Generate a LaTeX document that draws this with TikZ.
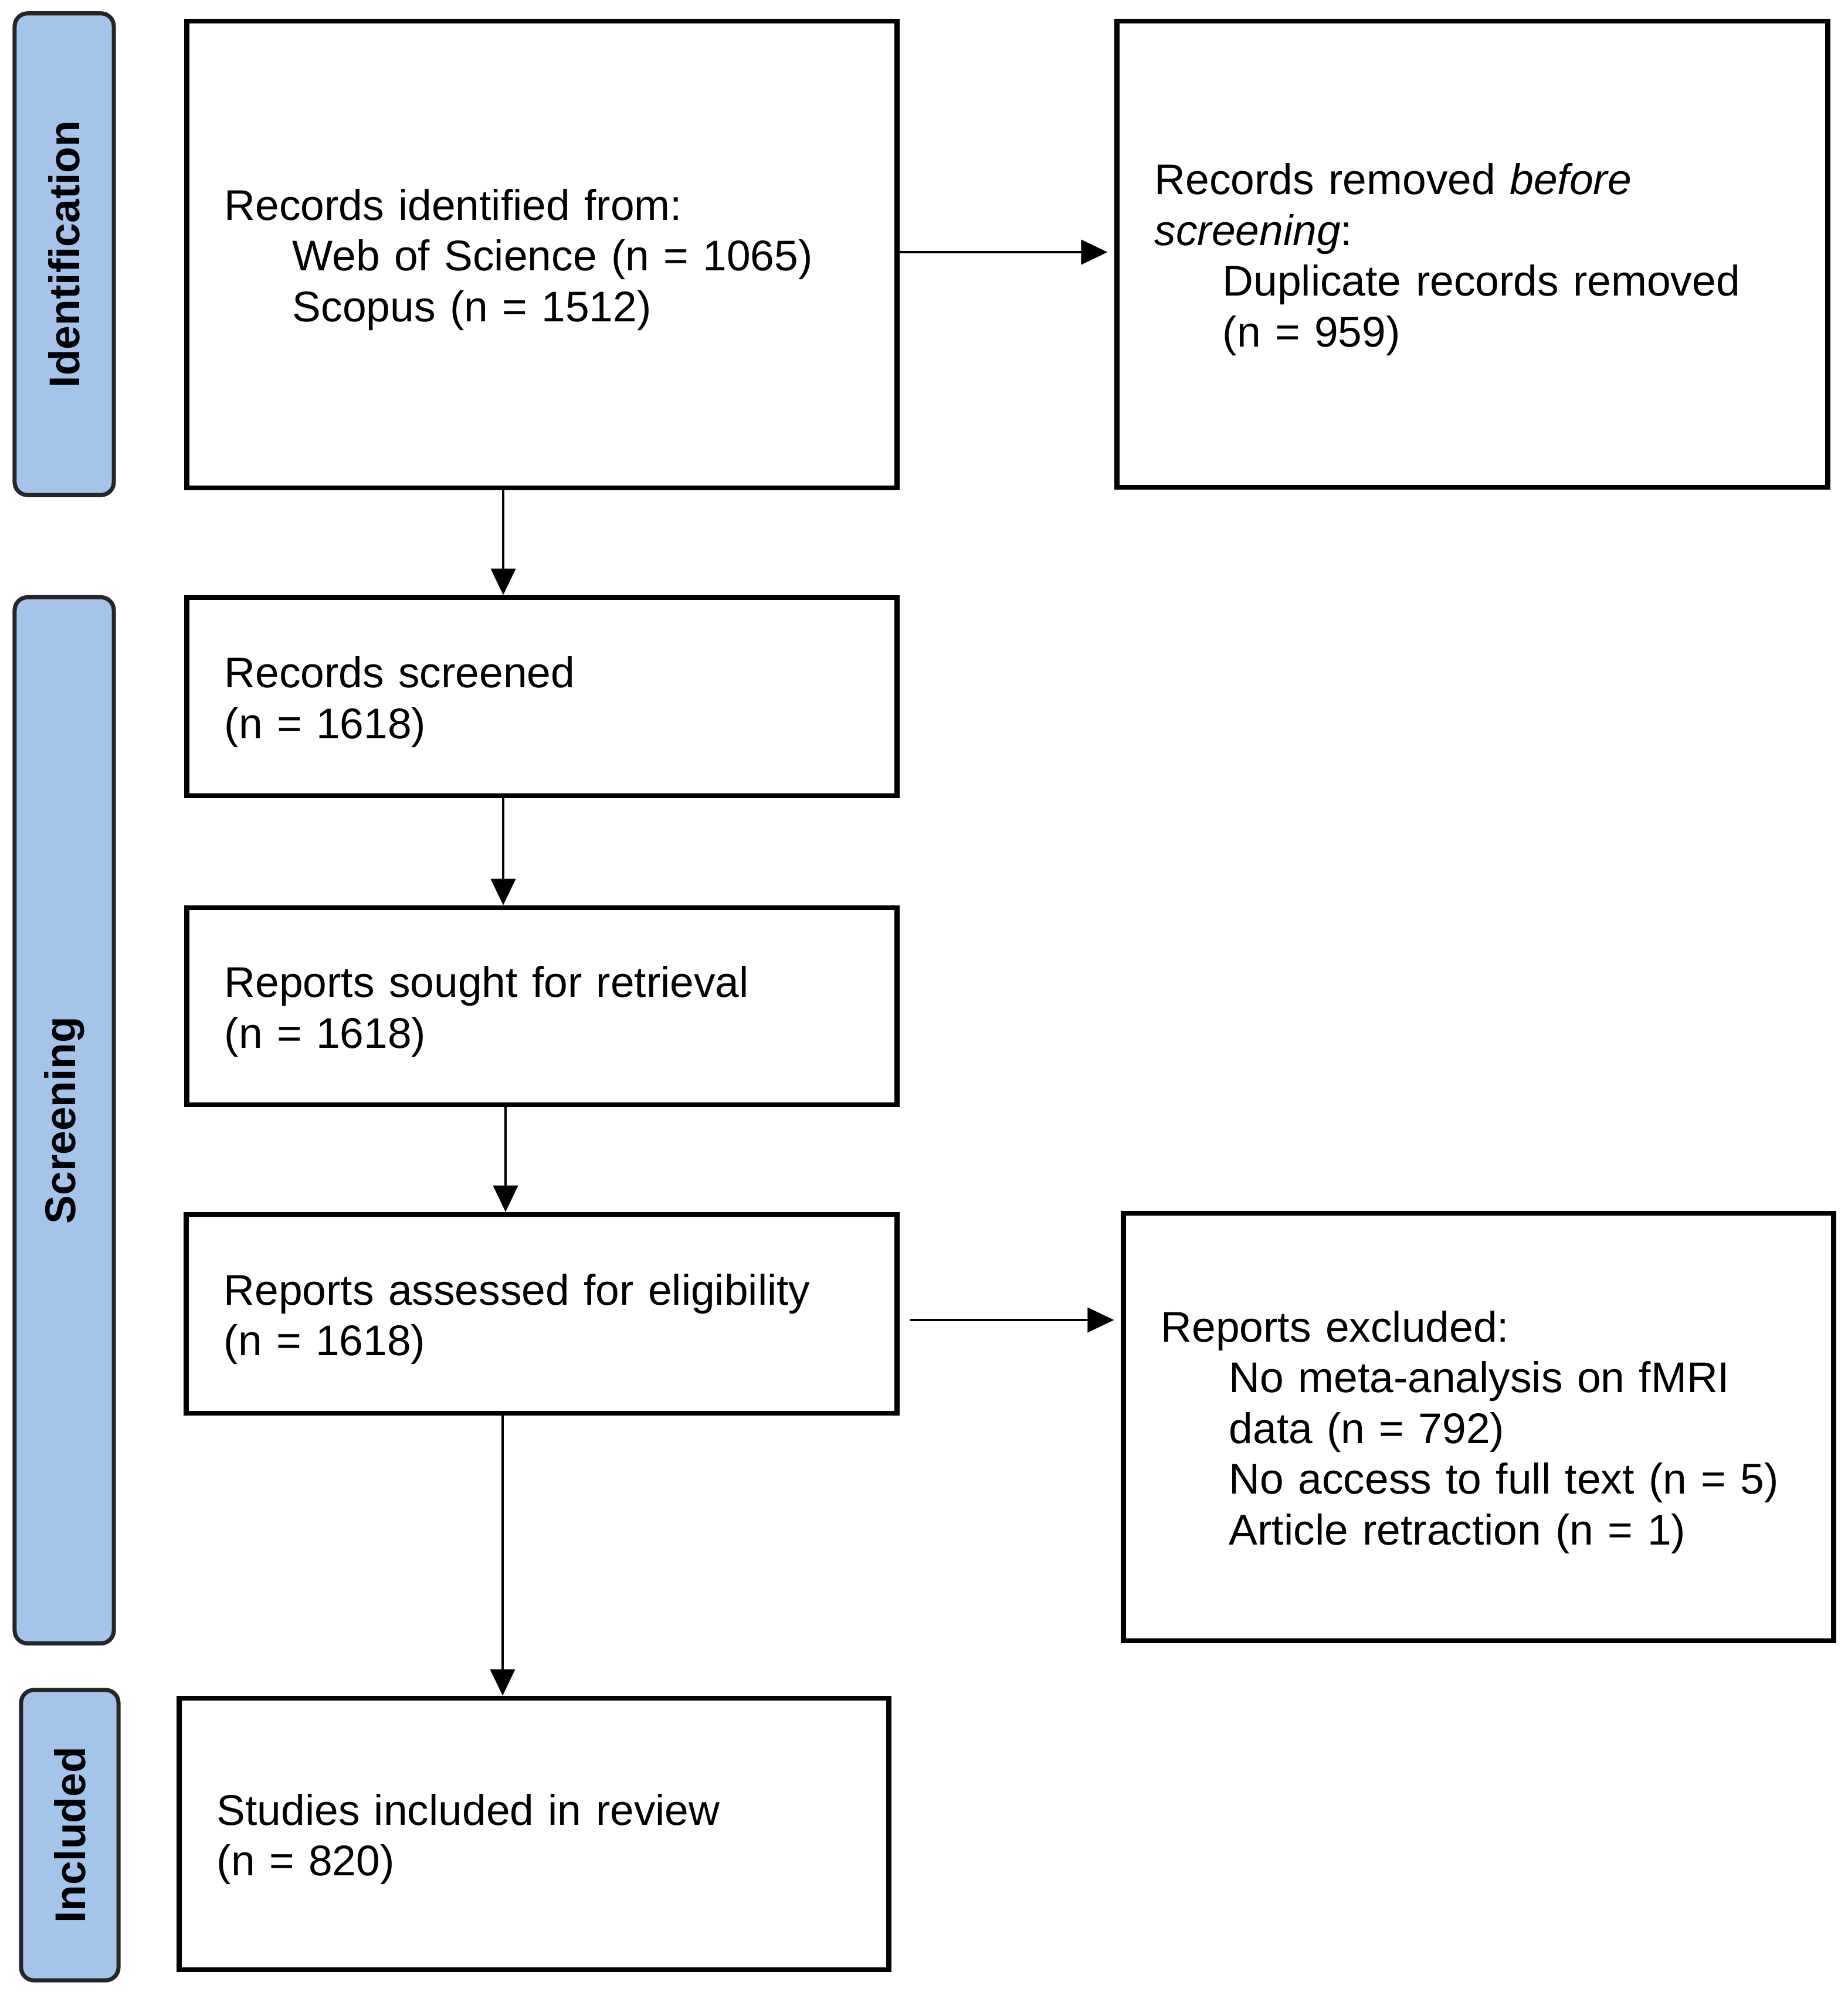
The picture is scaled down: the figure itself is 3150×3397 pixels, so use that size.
\documentclass[tikz,border=0pt]{standalone}
\usepackage{fontspec}
\setmainfont{Liberation Sans}
\usetikzlibrary{arrows.meta}
\definecolor{phaseblue}{RGB}{164,196,234}
\newcommand{\myindent}{\hspace*{1.16cm}}
\newcommand{\boxfont}{\fontsize{20.8}{24.6}\selectfont\hyphenpenalty=10000 }
\tikzset{
  box/.style={draw=black, line width=2.4pt, fill=white, align=left,
    inner xsep=0.64cm, inner ysep=0pt, font=\boxfont,
    execute at end node={\par\vspace*{-0.18cm}}},
  phase/.style={draw=black!85, line width=2pt, fill=phaseblue,
    rounded corners=0.22cm, rotate=90, inner sep=0pt,
    font=\boxfont\bfseries},
  arr/.style={-{Triangle[length=0.45cm,width=0.42cm]}, line width=1.1pt}
}
\begin{document}
\begin{tikzpicture}[x=0.01cm,y=-0.01cm]
\useasboundingbox (0,0) rectangle (3150,3397);
% phase bars
\node[phase, minimum width=8.21cm, minimum height=1.69cm] (s1) at (109.5,433.5) {Identification};
\node[phase, minimum width=17.83cm, minimum height=1.69cm] (s2) at (109.5,1910.5) {Screening};
\node[phase, minimum width=4.95cm, minimum height=1.66cm] (s3) at (119,3129.5) {Included};
% boxes
\node[box, text width=10.82cm, minimum height=7.96cm] (b1) at (924,434)
  {Records identified from:\\ \myindent Web of Science (n = 1065)\\ \myindent Scopus (n = 1512)};
\node[box, text width=10.83cm, minimum height=7.95cm] (b2) at (2510.5,433.5)
  {Records removed \textit{before}\\ \textit{screening}:\\ \myindent Duplicate records removed\\ \myindent (n = 959)};
\node[box, text width=10.82cm, minimum height=3.38cm] (b3) at (924,1188)
  {Records screened\\ (n = 1618)};
\node[box, text width=10.82cm, minimum height=3.36cm] (b4) at (924,1716)
  {Reports sought for retrieval\\ (n = 1618)};
\node[box, text width=10.83cm, minimum height=3.39cm] (b5) at (923.5,2240.5)
  {Reports assessed for eligibility\\ (n = 1618)};
\node[box, text width=10.82cm, minimum height=7.29cm] (b6) at (2521,2433.5)
  {Reports excluded:\\ \myindent No meta-analysis on fMRI\\ \myindent data (n = 792)\\ \myindent No access to full text (n = 5)\\ \myindent Article retraction (n = 1)};
\node[box, text width=10.81cm, minimum height=4.63cm] (b7) at (910.5,3127.5)
  {Studies included in review\\ (n = 820)};
% connector columns
\coordinate (c1) at (858,0);
\coordinate (c3) at (862,0);
\coordinate (c5) at (857,0);
\coordinate (r1) at (0,430);
\coordinate (r5) at (0,2251);
% connectors
\draw[arr, shorten >=0.12cm] (b1.east |- r1) -- (b2.west |- r1);
\draw[arr] (b1.south -| c1) -- (b3.north -| c1);
\draw[arr] (b3.south -| c1) -- (b4.north -| c1);
\draw[arr] (b4.south -| c3) -- (b5.north -| c3);
\draw[arr, shorten <=0.18cm, shorten >=0.12cm] (b5.east |- r5) -- (b6.west |- r5);
\draw[arr] (b5.south -| c5) -- (b7.north -| c5);
\end{tikzpicture}
\end{document}
